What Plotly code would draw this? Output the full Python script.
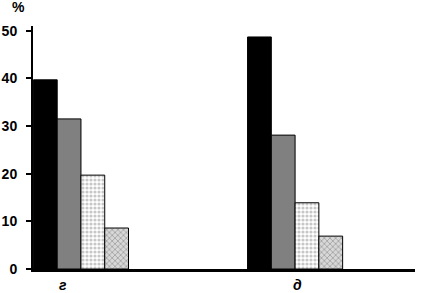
import plotly.graph_objects as go

categories = ["г", "д"]
series_names = ["s1", "s2", "s3", "s4"]
s1 = [39.7, 48.7]
s2 = [31.5, 28.1]
s3 = [19.7, 13.9]
s4 = [8.6, 6.9]
y_ticks = [0, 10, 20, 30, 40, 50]

x_idx = list(range(len(categories)))

styles = [
    dict(color="black"),
    dict(color="#808080"),
    dict(color="white", pattern=dict(shape=".", fgcolor="#909090", bgcolor="white", size=4, solidity=0.5)),
    dict(color="#c8c8c8", pattern=dict(shape="x", fgcolor="#707070", bgcolor="#d8d8d8", size=4, solidity=0.4)),
]

fig = go.Figure()
for name, vals, st in zip(series_names, [s1, s2, s3, s4], styles):
    fig.add_trace(go.Bar(
        x=x_idx, y=vals, name=name,
        marker=dict(line=dict(color="black", width=1), **st),
    ))

fig.update_layout(
    width=428, height=293,
    margin=dict(l=33, r=13, t=26, b=24),
    plot_bgcolor="white", paper_bgcolor="white",
    barmode="group", bargap=0.556, bargroupgap=0,
    showlegend=False,
    font=dict(family="Liberation Sans", size=13, color="black"),
    xaxis=dict(
        range=[-0.224, 1.56],
        tickvals=[-0.085, 1.01], ticktext=categories,
        tickfont=dict(family="Liberation Sans", size=14, color="black", style="italic", weight="bold"),
        showline=True, linecolor="black", linewidth=3,
        ticks="", showgrid=False, zeroline=False, automargin=False,
        ticklabelstandoff=1,
    ),
    yaxis=dict(
        range=[0, 51],
        tickvals=y_ticks,
        tickfont=dict(family="Liberation Sans", size=14, color="black", weight="bold"),
        showline=True, linecolor="black", linewidth=2,
        ticks="outside", ticklen=5, tickwidth=2, tickcolor="black",
        showgrid=False, zeroline=False, automargin=False,
        ticklabelstandoff=6,
    ),
    annotations=[dict(
        text="<b>%</b>", xref="paper", yref="paper", x=-0.037, y=1.037,
        xanchor="center", yanchor="bottom", showarrow=False,
        font=dict(family="Liberation Sans", size=14, color="black"),
    )],
)

fig.write_html("out.html", config={"displayModeBar": False},
               post_script="document.body.style.margin='0';document.body.style.padding='0';")
